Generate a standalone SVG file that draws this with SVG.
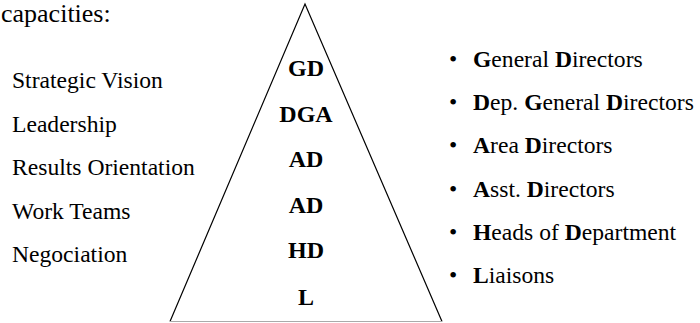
<svg xmlns="http://www.w3.org/2000/svg" width="700" height="323" viewBox="0 0 700 323" font-family="'Liberation Serif', Tinos, 'Times New Roman', 'DejaVu Serif', serif">
<style>
text{font-family:'Liberation Serif', Tinos, 'Times New Roman', 'DejaVu Serif', serif;fill:#000;font-size:23.6px}
.lvl{font-weight:bold;text-anchor:middle;font-size:24px}
.b{font-weight:bold}
.head{font-size:26px}
</style>
<rect width="700" height="323" fill="#fff"/>
<g id="heading"><text class="head" x="1" y="22">capacities:</text></g>
<g id="capacities">
<text x="12" y="88">Strategic Vision</text>
<text x="12" y="131.5">Leadership</text>
<text x="12" y="175">Results Orientation</text>
<text x="12" y="218.5">Work Teams</text>
<text x="12" y="262">Negociation</text>
</g>
<g id="pyramid">
<path d="M170,321.5 L305,4 L442,321.5" fill="none" stroke="#000" stroke-width="1.2"/>
<line x1="170" y1="321.5" x2="442" y2="321.5" stroke="#aaa" stroke-width="1.2"/>
</g>
<g id="levels">
<text class="lvl" x="306" y="76">GD</text>
<text class="lvl" x="306" y="122">DGA</text>
<text class="lvl" x="306" y="167">AD</text>
<text class="lvl" x="306" y="213">AD</text>
<text class="lvl" x="306" y="258">HD</text>
<text class="lvl" x="306" y="305">L</text>
</g>
<g id="legend">
<text x="449" y="67">•</text><text x="473" y="67"><tspan class="b">G</tspan>eneral <tspan class="b">D</tspan>irectors</text>
<text x="449" y="110">•</text><text x="473" y="110"><tspan class="b">D</tspan>ep. <tspan class="b">G</tspan>eneral <tspan class="b">D</tspan>irectors</text>
<text x="449" y="153">•</text><text x="473" y="153"><tspan class="b">A</tspan>rea <tspan class="b">D</tspan>irectors</text>
<text x="449" y="197">•</text><text x="473" y="197"><tspan class="b">A</tspan>sst. <tspan class="b">D</tspan>irectors</text>
<text x="449" y="240">•</text><text x="473" y="240"><tspan class="b">H</tspan>eads of <tspan class="b">D</tspan>epartment</text>
<text x="449" y="283">•</text><text x="473" y="283"><tspan class="b">L</tspan>iaisons</text>
</g>
</svg>
